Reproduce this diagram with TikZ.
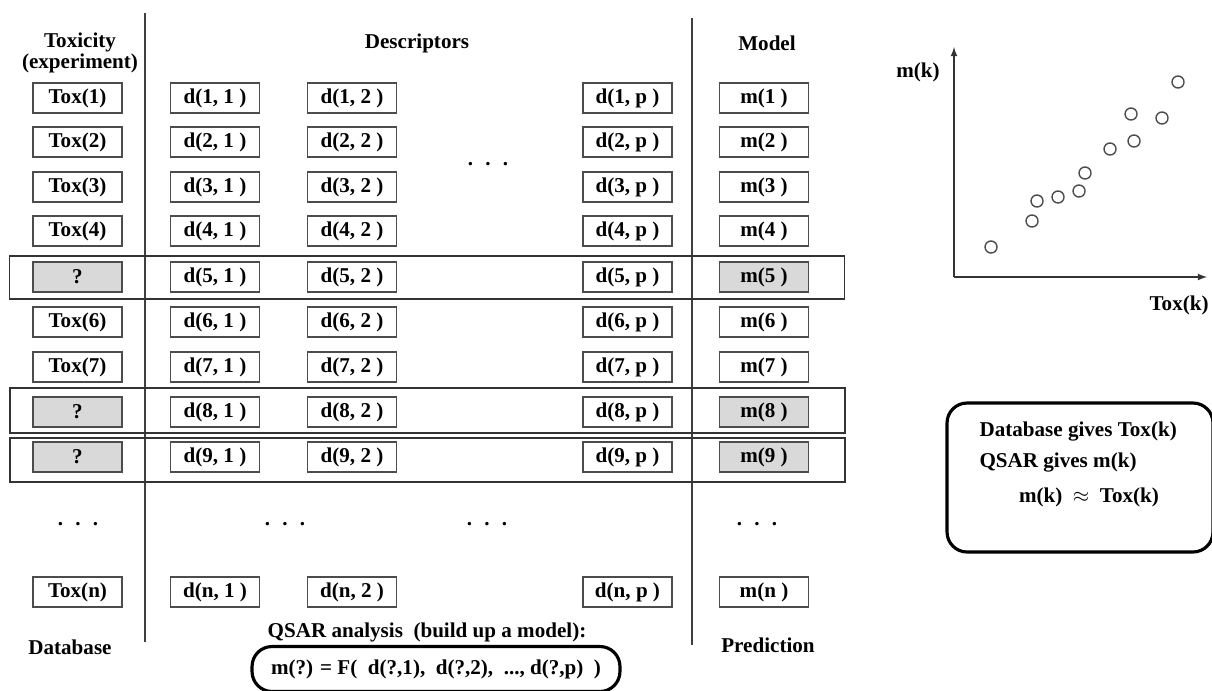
\documentclass[tikz,border=0pt]{standalone}
\usepackage{fontspec}
\setmainfont{Liberation Serif}
\usetikzlibrary{arrows}
\begin{document}
\begin{tikzpicture}[x = 0.02cm, y = -0.02cm, >=latex, line width = 0.8pt]
    \tikzstyle{every node} = [font = \fontsize{12}{12}\selectfont\bfseries]
    \tikzstyle{cell} = [draw = black!70, fill = white, shape = rectangle, inner sep = 0pt, minimum height = 0.6cm, minimum width = 1.78cm]
    \tikzstyle{unknown} = [cell, fill = black!15]
    \tikzstyle{frame} = [draw = black!80, shape = rectangle, inner sep = 0pt, minimum width = 16.7cm]
    \tikzstyle{dots} = [anchor = base, inner sep = 0pt]
    \tikzstyle{sample} = [draw = black!70, shape = circle, inner sep = 0pt, minimum size = 0.24cm]
    \tikzstyle{roundbox} = [draw, shape = rectangle, rounded corners = 0.4cm, line width = 1.8pt]

    \useasboundingbox (0,0) rectangle (1212,690);

    \draw[black!75] (145,13) -- (145,642);
    \draw[black!75] (692,18) -- (692,645);

    \node[frame, minimum height = 0.86cm] (frame5) at (427,277.5) {};
    \node[frame, minimum height = 0.9cm] (frame8) at (427.5,410.5) {};
    \node[frame, minimum height = 0.88cm] (frame9) at (427.5,460) {};

    \node[align = center] (toxhead) at (80,53) {Toxicity\\(experiment)};
    \node[] (deschead) at (417,43) {Descriptors};
    \node[] (modelhead) at (767,43) {Model};

    \node[cell] (tox1) at (77.5,98) {Tox(1)};
    \node[cell] (d11) at (215,98) {d(1, 1 )};
    \node[cell] (d12) at (352,98) {d(1, 2 )};
    \node[cell] (d1p) at (627.5,98) {d(1, p )};
    \node[cell] (m1) at (764,98) {m(1 )};

    \node[cell] (tox2) at (77.5,142) {Tox(2)};
    \node[cell] (d21) at (215,142) {d(2, 1 )};
    \node[cell] (d22) at (352,142) {d(2, 2 )};
    \node[cell] (d2p) at (627.5,142) {d(2, p )};
    \node[cell] (m2) at (764,142) {m(2 )};
    \node[dots] (dotsdesc) at (488,165) {. \ . \ .};

    \node[cell] (tox3) at (77.5,187) {Tox(3)};
    \node[cell] (d31) at (215,187) {d(3, 1 )};
    \node[cell] (d32) at (352,187) {d(3, 2 )};
    \node[cell] (d3p) at (627.5,187) {d(3, p )};
    \node[cell] (m3) at (764,187) {m(3 )};

    \node[cell] (tox4) at (77.5,231) {Tox(4)};
    \node[cell] (d41) at (215,231) {d(4, 1 )};
    \node[cell] (d42) at (352,231) {d(4, 2 )};
    \node[cell] (d4p) at (627.5,231) {d(4, p )};
    \node[cell] (m4) at (764,231) {m(4 )};

    \node[unknown] (tox5) at (77.5,277) {?};
    \node[cell] (d51) at (215,277) {d(5, 1 )};
    \node[cell] (d52) at (352,277) {d(5, 2 )};
    \node[cell] (d5p) at (627.5,277) {d(5, p )};
    \node[unknown] (m5) at (764,277) {m(5 )};

    \node[cell] (tox6) at (77.5,322) {Tox(6)};
    \node[cell] (d61) at (215,322) {d(6, 1 )};
    \node[cell] (d62) at (352,322) {d(6, 2 )};
    \node[cell] (d6p) at (627.5,322) {d(6, p )};
    \node[cell] (m6) at (764,322) {m(6 )};

    \node[cell] (tox7) at (77.5,367) {Tox(7)};
    \node[cell] (d71) at (215,367) {d(7, 1 )};
    \node[cell] (d72) at (352,367) {d(7, 2 )};
    \node[cell] (d7p) at (627.5,367) {d(7, p )};
    \node[cell] (m7) at (764,367) {m(7 )};

    \node[unknown] (tox8) at (77.5,412) {?};
    \node[cell] (d81) at (215,412) {d(8, 1 )};
    \node[cell] (d82) at (352,412) {d(8, 2 )};
    \node[cell] (d8p) at (627.5,412) {d(8, p )};
    \node[unknown] (m8) at (764,412) {m(8 )};

    \node[unknown] (tox9) at (77.5,457) {?};
    \node[cell] (d91) at (215,457) {d(9, 1 )};
    \node[cell] (d92) at (352,457) {d(9, 2 )};
    \node[cell] (d9p) at (627.5,457) {d(9, p )};
    \node[unknown] (m9) at (764,457) {m(9 )};

    \node[dots] (dotstox) at (78,525) {. \ . \ .};
    \node[dots] (dotsd1) at (285,525) {. \ . \ .};
    \node[dots] (dotsd2) at (487,525) {. \ . \ .};
    \node[dots] (dotsm) at (757,525) {. \ . \ .};

    \node[cell] (toxn) at (77.5,592) {Tox(n)};
    \node[cell] (dn1) at (215,592) {d(n, 1 )};
    \node[cell] (dn2) at (352,592) {d(n, 2 )};
    \node[cell] (dnp) at (627.5,592) {d(n, p )};
    \node[cell] (mn) at (764,592) {m(n )};

    \node[] (database) at (70,647) {Database};
    \node[] (prediction) at (768,645) {Prediction};
    \node[] (qsar) at (427,632) {QSAR analysis\ \ (build up a model):};
    \node[roundbox, minimum width = 7.36cm, minimum height = 0.9cm] (formula) at (436,669)
        {m(?) = F(\ \ d(?,1),\ \ d(?,2),\ \ ...,\ d(?,p)\ \ )};

    \coordinate (origin) at (954,277);
    \coordinate (ytop) at (954,47);
    \coordinate (xend) at (1207,277);
    \draw[->, black!80] (origin) -- (ytop);
    \draw[->, black!80] (origin) -- (xend);
    \node[] (ylabel) at (918,72) {m(k)};
    \node[anchor = east, inner sep = 1pt] (xlabel) at (1211,305) {Tox(k)};

    \node[sample] (p1) at (991,247) {};
    \node[sample] (p2) at (1032,221) {};
    \node[sample] (p3) at (1037,201) {};
    \node[sample] (p4) at (1058,197) {};
    \node[sample] (p5) at (1079,191) {};
    \node[sample] (p6) at (1085,173) {};
    \node[sample] (p7) at (1110,149) {};
    \node[sample] (p8) at (1131,114) {};
    \node[sample] (p9) at (1134,141) {};
    \node[sample] (p10) at (1162,118) {};
    \node[sample] (p11) at (1178,82) {};

    \node[roundbox, minimum width = 5.32cm, minimum height = 2.98cm] (summary) at (1080,477.5) {};
    \node[anchor = west] (dbline) at (973,432) {Database gives Tox(k)};
    \node[anchor = west] (qsarline) at (973,463) {QSAR gives m(k)};
    \node[] (approxline) at (1089,497) {m(k)\ \ $\approx$\ \ Tox(k)};
\end{tikzpicture}
\end{document}
